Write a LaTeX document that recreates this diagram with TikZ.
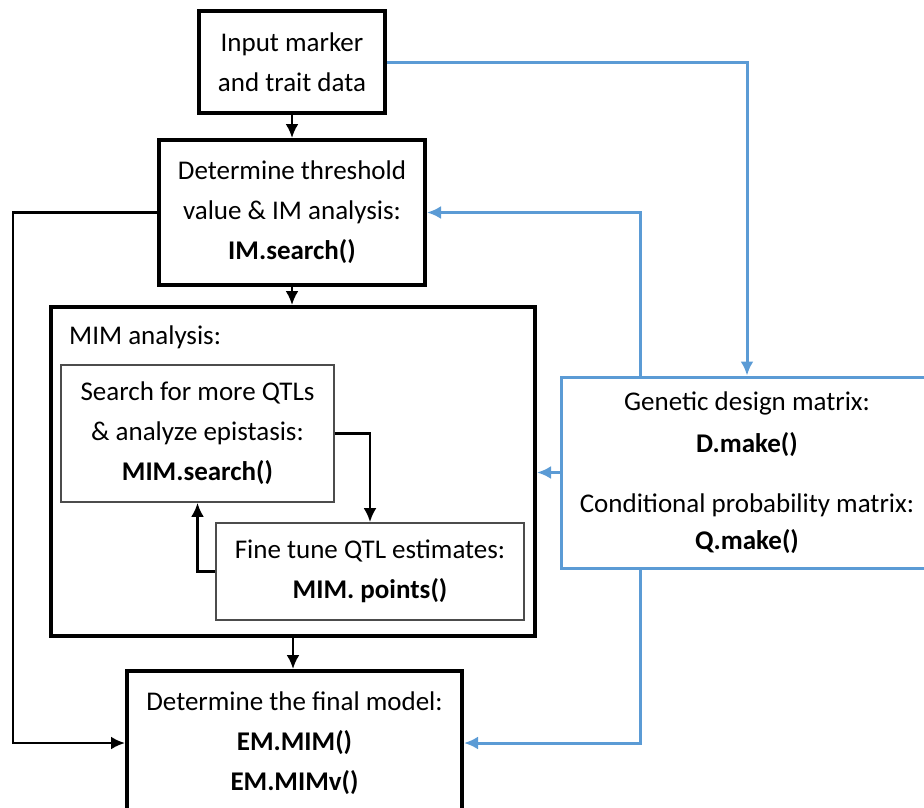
\documentclass[tikz,border=0pt]{standalone}
\usepackage{fontspec}
\setmainfont{Carlito}
\usetikzlibrary{arrows.meta}
\definecolor{matblue}{RGB}{91,155,213}
\begin{document}
\begin{tikzpicture}[>={Latex[length=14pt,width=13pt]}, x=1pt, y=-1pt,
  font=\fontsize{27}{40}\selectfont,
  bigbox/.style={draw, line width=4pt, align=center, inner sep=0pt},
  smallbox/.style={draw=black!70, line width=1.8pt, align=center, inner sep=0pt},
  flow/.style={->, line width=2.6pt},
  blueflow/.style={->, draw=matblue, line width=3pt}]
  \useasboundingbox (0,0) rectangle (924,807);
  % main column
  \node[bigbox, minimum width=186pt, minimum height=102pt] (input) at (292,62)
    {Input marker\\and trait data};
  \node[bigbox, minimum width=266pt, minimum height=145pt] (thresh) at (292,212.5)
    {Determine threshold\\value \& IM analysis:\\\textbf{IM.search()}};
  \node[bigbox, minimum width=484pt, minimum height=329pt] (mim) at (293,471.5) {};
  \node[anchor=west, inner sep=0pt] (mimlabel) at (69,337) {MIM analysis:};
  \node[smallbox, minimum width=273pt, minimum height=137pt] (search) at (197.5,433.5)
    {Search for more QTLs\\\& analyze epistasis:\\\textbf{MIM.search()}};
  \node[smallbox, minimum width=308pt, minimum height=97pt] (finetune) at (370,571.5)
    {Fine tune QTL estimates:\\\textbf{MIM. points()}};
  \node[bigbox, minimum width=335pt, minimum height=144pt] (final) at (294.5,743)
    {Determine the final model:\\\textbf{EM.MIM()}\\\textbf{EM.MIMv()}};
  % matrices on the right
  \node[draw=matblue, line width=3pt, align=center, inner sep=0pt,
    minimum width=372pt, minimum height=191pt] (matrices) at (747,472.5)
    {Genetic design matrix:\\[2pt]\textbf{D.make()}\\[20pt]Conditional probability matrix:\\[-3pt]\textbf{Q.make()}};
  \coordinate (leftrail) at (13,0);
  \coordinate (bluerail) at (640,0);
  % black links
  \draw[flow] (input.south) -- (thresh.north);
  \draw[flow] (thresh.south) -- (thresh.south |- mim.north);
  \draw[flow] (mim.south) -- (mim.south |- final.north);
  \draw[flow] (thresh.west) -- (thresh.west -| leftrail) |- (final.west);
  \draw[flow] (search.east) -| (finetune.north);
  \draw[flow] (finetune.west) -| (search.south);
  % blue links
  \draw[blueflow] (input.east) -| (matrices.north);
  \draw[blueflow] (matrices.north -| bluerail) |- (thresh.east);
  \draw[blueflow] (matrices.west) -- (matrices.west -| mim.east);
  \draw[blueflow] (matrices.south -| bluerail) |- (final.east);
\end{tikzpicture}
\end{document}
